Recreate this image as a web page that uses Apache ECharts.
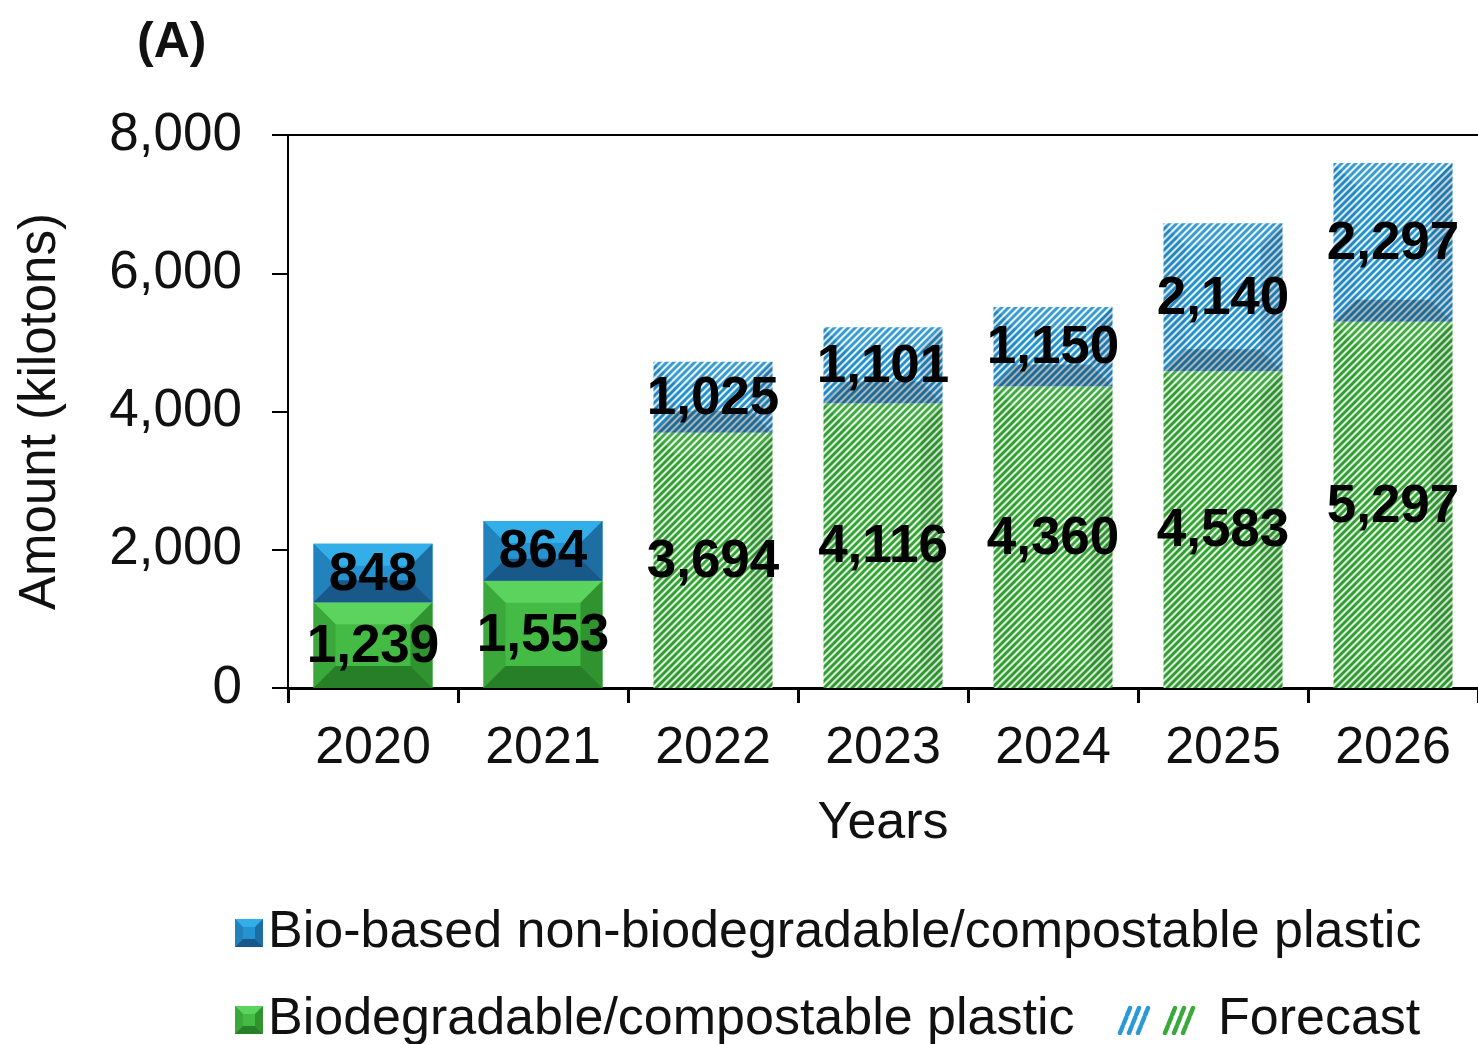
<!DOCTYPE html>
<html>
<head>
<meta charset="utf-8">
<script src="https://cdn.jsdelivr.net/npm/echarts@6/dist/echarts.min.js"></script>
<style>
html,body{margin:0;padding:0;background:#fff;}
#chart{width:1478px;height:1044px;}
</style>
</head>
<body>
<div id="chart"></div>
<script>
// ---- data ----
const categories = ['2020', '2021', '2022', '2023', '2024', '2025', '2026'];
const bioBased = [848, 864, 1025, 1101, 1150, 2140, 2297];
const biodegradable = [1239, 1553, 3694, 4116, 4360, 4583, 5297];
const forecastFlags = [0, 0, 1, 1, 1, 1, 1];
const yAxisTicks = [0, 2000, 4000, 6000, 8000];
const seriesNames = ['Bio-based non-biodegradable/compostable plastic', 'Biodegradable/compostable plastic'];
const forecastName = 'Forecast';

const FONT = '"Liberation Sans", Arial, Helvetica, sans-serif';
const FS = 52;

const greenPal = {top: '#5cd35c', mid: '#44bb44', left: '#3aa83a', right: '#2f932f', bottom: '#277f27', stripe: '#33a333', bg: '#e4f8e4',
  ov: {top: 'rgba(255,255,255,0.08)', left: 'rgba(0,0,0,0.04)', right: 'rgba(0,0,0,0.1)', bottom: 'rgba(0,0,0,0.06)'}};
const bluePal = {top: '#33aee8', mid: '#2792d0', left: '#2282bc', right: '#1c6ea3', bottom: '#19598a', stripe: '#2590cc', bg: '#e2f3fb',
  ov: {top: 'rgba(255,255,255,0.1)', left: 'rgba(0,0,0,0.05)', right: 'rgba(0,0,0,0.14)', bottom: 'rgba(0,0,0,0.26)'}};

function hatchCanvas(stripe, bg, s, w) {
  const c = document.createElement('canvas');
  c.width = s; c.height = s;
  const ctx = c.getContext('2d');
  ctx.fillStyle = bg; ctx.fillRect(0, 0, s, s);
  ctx.strokeStyle = stripe; ctx.lineWidth = w;
  for (let k = -1; k <= 1; k++) {
    const a = k * s;
    ctx.beginPath();
    ctx.moveTo(a - 2, s + 2);
    ctx.lineTo(a + s + 2, -2);
    ctx.stroke();
  }
  return c;
}
const greenHatch = {image: hatchCanvas(greenPal.stripe, greenPal.bg, 7, 2.8), repeat: 'repeat'};
const blueHatch = {image: hatchCanvas(bluePal.stripe, bluePal.bg, 7, 2.8), repeat: 'repeat'};

function bevelIcon(pal) {
  const s = 28, b = 8;
  const c = document.createElement('canvas');
  c.width = s; c.height = s;
  const ctx = c.getContext('2d');
  const poly = (pts, fill) => { ctx.fillStyle = fill; ctx.beginPath(); ctx.moveTo(pts[0][0], pts[0][1]); for (let i = 1; i < pts.length; i++) ctx.lineTo(pts[i][0], pts[i][1]); ctx.closePath(); ctx.fill(); };
  poly([[0,0],[s,0],[s,s],[0,s]], pal.mid);
  poly([[0,0],[s,0],[s-b,b],[b,b]], pal.top);
  poly([[0,0],[b,b],[b,s-b],[0,s]], pal.left);
  poly([[s,0],[s,s],[s-b,s-b],[s-b,b]], pal.right);
  poly([[0,s],[b,s-b],[s-b,s-b],[s,s]], pal.bottom);
  return 'image://' + c.toDataURL();
}
function forecastIcon() {
  const c = document.createElement('canvas');
  c.width = 96; c.height = 30;
  const ctx = c.getContext('2d');
  ctx.lineWidth = 4.5;
  ctx.lineCap = 'round';
  ctx.setLineDash([7, 3]);
  const draw = (x0, col) => {
    ctx.strokeStyle = col;
    for (let i = 0; i < 3; i++) {
      ctx.beginPath();
      ctx.moveTo(x0 + 3 + i * 9, 28);
      ctx.lineTo(x0 + 13 + i * 9, 3);
      ctx.stroke();
    }
  };
  draw(0, '#2a9ad6');
  draw(45, '#3aa83a');
  return 'image://' + c.toDataURL();
}

function makeRender(pal, pattern) {
  return function (params, api) {
    const idx = api.value(0), low = api.value(1), high = api.value(2), amt = api.value(3), fc = api.value(4);
    const p0 = api.coord([idx, low]);
    const p1 = api.coord([idx, high]);
    const bw = api.size([1, 0])[0] * 0.7;
    const x0 = p0[0] - bw / 2, x1 = x0 + bw, yb = p0[1], yt = p1[1];
    const h = yb - yt;
    const b = Math.min(22, h / 2, bw / 2);
    const children = [];
    const poly = (pts, fill) => ({type: 'polygon', shape: {points: pts}, style: {fill: fill}, silent: true});
    const topP = [[x0, yt], [x1, yt], [x1 - b, yt + b], [x0 + b, yt + b]];
    const leftP = [[x0, yt], [x0 + b, yt + b], [x0 + b, yb - b], [x0, yb]];
    const rightP = [[x1, yt], [x1, yb], [x1 - b, yb - b], [x1 - b, yt + b]];
    const botP = [[x0, yb], [x0 + b, yb - b], [x1 - b, yb - b], [x1, yb]];
    if (!fc) {
      children.push({type: 'rect', shape: {x: x0, y: yt, width: bw, height: h}, style: {fill: pal.mid}});
      children.push(poly(topP, pal.top));
      children.push(poly(leftP, pal.left));
      children.push(poly(rightP, pal.right));
      children.push(poly(botP, pal.bottom));
    } else {
      children.push({type: 'rect', shape: {x: x0, y: yt, width: bw, height: h}, style: {fill: pattern}});
      children.push(poly(topP, pal.ov.top));
      children.push(poly(leftP, pal.ov.left));
      children.push(poly(rightP, pal.ov.right));
      children.push(poly(botP, pal.ov.bottom));
    }
    children.push({
      type: 'text',
      z2: 100,
      style: {
        text: Number(amt).toLocaleString('en-US'),
        x: (x0 + x1) / 2,
        y: (yt + yb) / 2 + 2,
        align: 'center',
        verticalAlign: 'middle',
        fontSize: 53,
        fontWeight: 'bold',
        fontFamily: FONT,
        fill: '#000'
      }
    });
    return {type: 'group', children: children};
  };
}

const greenData = categories.map((c, i) => [i, 0, biodegradable[i], biodegradable[i], forecastFlags[i]]);
const blueData = categories.map((c, i) => [i, biodegradable[i], biodegradable[i] + bioBased[i], bioBased[i], forecastFlags[i]]);

const legendText = {fontSize: FS, color: '#111', fontFamily: FONT, lineHeight: 52};

const chart = echarts.init(document.getElementById('chart'));
const option = {
  backgroundColor: '#fff',
  animation: false,
  textStyle: {fontFamily: FONT},
  title: {
    text: '(A)', left: 132, top: 13,
    textStyle: {fontSize: 50, fontWeight: 'bold', color: '#111', fontFamily: FONT}
  },
  grid: {left: 288, right: 0, top: 135, bottom: 356, containLabel: false},
  legend: [
    {
      left: 230, top: 902,
      itemWidth: 28, itemHeight: 28,
      selectedMode: false,
      textStyle: legendText,
      data: [{name: seriesNames[0], icon: bevelIcon(bluePal)}]
    },
    {
      left: 230, top: 989,
      itemWidth: 28, itemHeight: 28,
      selectedMode: false,
      textStyle: legendText,
      data: [{name: seriesNames[1], icon: bevelIcon(greenPal)}]
    },
    {
      left: 1112, top: 989,
      itemWidth: 96, itemHeight: 30,
      selectedMode: false,
      textStyle: legendText,
      data: [{name: forecastName, icon: forecastIcon()}]
    }
  ],
  xAxis: [
    {
      type: 'category', data: categories, position: 'bottom',
      name: 'Years', nameLocation: 'middle', nameGap: 110,
      nameTextStyle: {fontSize: FS, color: '#111', fontFamily: FONT},
      axisLine: {lineStyle: {color: '#000', width: 3}},
      axisTick: {show: true, length: 15, lineStyle: {color: '#000', width: 3}},
      axisLabel: {fontSize: FS, color: '#111', margin: 35, interval: 0, fontFamily: FONT},
      splitLine: {show: false}
    },
    {
      type: 'category', data: categories, position: 'top',
      axisLine: {show: true, lineStyle: {color: '#000', width: 2}},
      axisTick: {show: false}, axisLabel: {show: false}, splitLine: {show: false}
    }
  ],
  yAxis: {
    type: 'value', min: yAxisTicks[0], max: yAxisTicks[yAxisTicks.length - 1], interval: yAxisTicks[1] - yAxisTicks[0],
    name: 'Amount (kilotons)', nameLocation: 'middle', nameGap: 222,
    nameTextStyle: {fontSize: 51, color: '#111', fontFamily: FONT},
    axisLine: {show: true, lineStyle: {color: '#000', width: 2}},
    axisTick: {show: true, length: 16, lineStyle: {color: '#000', width: 2}},
    axisLabel: {fontSize: 53, color: '#111', margin: 46, fontFamily: FONT,
      formatter: v => Number(v).toLocaleString('en-US')},
    splitLine: {show: false}
  },
  series: [
    {
      name: seriesNames[1], type: 'custom', xAxisIndex: 0,
      renderItem: makeRender(greenPal, greenHatch),
      encode: {x: 0, y: [1, 2]},
      data: greenData
    },
    {
      name: seriesNames[0], type: 'custom', xAxisIndex: 0,
      renderItem: makeRender(bluePal, blueHatch),
      encode: {x: 0, y: [1, 2]},
      data: blueData
    },
    {
      name: forecastName, type: 'custom', xAxisIndex: 0,
      renderItem: function () { return null; },
      data: []
    }
  ]
};
chart.setOption(option);
</script>
</body>
</html>
